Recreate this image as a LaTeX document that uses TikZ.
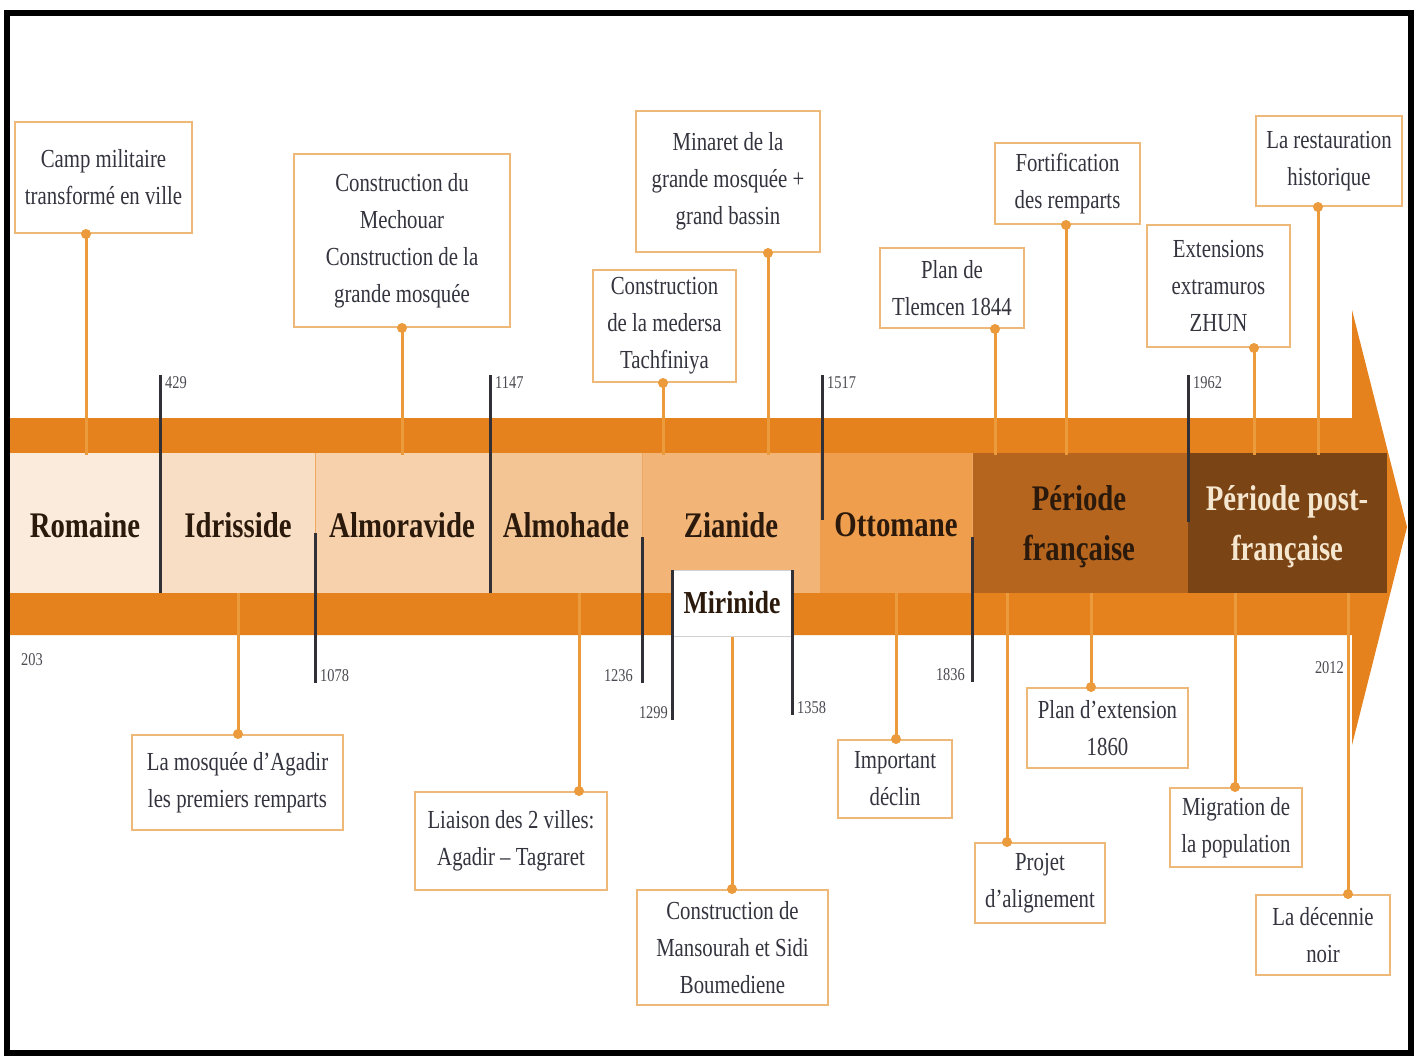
\documentclass[tikz,border=0pt]{standalone}
\usepackage{fontspec}
\setmainfont{Liberation Serif}[FakeStretch=0.8]
\usetikzlibrary{positioning}
\definecolor{band}{HTML}{E6821E}
\definecolor{linkorange}{HTML}{EB9A3C}
\definecolor{boxline}{HTML}{EDB878}
\definecolor{eventtext}{HTML}{34343F}
\definecolor{tickgray}{HTML}{303036}
\definecolor{datetext}{HTML}{4A4A52}
\definecolor{periodtext}{HTML}{2B1A0C}
\definecolor{posttext}{HTML}{F5E6D0}
\definecolor{cRomaine}{HTML}{FBEBDD}
\definecolor{cIdrisside}{HTML}{F8DEC4}
\definecolor{cAlmoravide}{HTML}{F6D1AB}
\definecolor{cAlmohade}{HTML}{F4C594}
\definecolor{cZianide}{HTML}{F2B477}
\definecolor{cOttomane}{HTML}{EE9E4C}
\definecolor{cFrancaise}{HTML}{B5651E}
\definecolor{cPost}{HTML}{7B4414}
\tikzstyle{event}=[draw=boxline, line width=2pt, fill=white, align=center, text=eventtext, inner sep=0pt, font=\fontsize{26}{37}\selectfont]
\tikzstyle{period}=[align=center, text=periodtext, font=\bfseries\fontsize{36}{50}\selectfont]
\tikzstyle{datum}=[text=datetext, inner sep=1pt, font=\fontsize{18}{20}\selectfont]
\tikzstyle{link}=[draw=linkorange, line width=3pt]
\tikzstyle{tick}=[draw=tickgray, line width=3pt]
\tikzstyle{dot}=[fill=linkorange]

\begin{document}
\begin{tikzpicture}[x=1pt, y=-1pt]
      \useasboundingbox (0,0) rectangle (1418,1058);
      \fill[white] (0,0) rectangle (1418,1058);

      % the arrow
      \fill[band] (10,418) -- (1352,418) -- (1352,310) -- (1407,527) -- (1352,745)
        -- (1352,635) -- (10,635) -- cycle;
      \foreach \c/\a/\b in {cRomaine/10/160, cIdrisside/160/315, cAlmoravide/315/490,
        cAlmohade/490/642, cZianide/642/820, cOttomane/820/972,
        cFrancaise/972/1188, cPost/1188/1387}{
        \fill[\c] (\a,453) rectangle (\b,593);
      }
      \foreach \x in {315, 642, 972}{
        \draw[band!70, line width=1pt] (\x,453) -- (\x,593);
      }

      \node[period] (romaine) at (85,525) {Romaine};
      \node[period] (idrisside) at (238,525) {Idrisside};
      \node[period] (almoravide) at (402,525) {Almoravide};
      \node[period] (almohade) at (566,525) {Almohade};
      \node[period] (zianide) at (731,525) {Zianide};
      \node[period] (ottomane) at (896,525) {Ottomane};
      \node[period] (francaise) at (1079,527) {Période\\française};
      \node[period, text=posttext] (postfr) at (1287,527) {Période post-\\française};
      \node[draw=gray!35, line width=1pt, fill=white, inner sep=0pt, minimum width=120, minimum height=66,
        text=periodtext, font=\bfseries\fontsize{32}{36}\selectfont] (mirinide) at (732,603) {Mirinide};

      % events above
      \node[event, minimum width=177, minimum height=111] (camp) at (103.5,177.5) {Camp militaire\\transformé en ville};
      \node[event, minimum width=216, minimum height=173] (mechouar) at (402,240.5) {Construction du\\Mechouar\\Construction de la\\grande mosquée};
      \node[event, minimum width=184, minimum height=141] (minaret) at (728,181.5) {Minaret de la\\grande mosquée +\\grand bassin};
      \node[event, minimum width=143, minimum height=112] (medersa) at (664.5,326) {Construction\\de la medersa\\Tachfiniya};
      \node[event, minimum width=144, minimum height=80] (plan) at (952,288) {Plan de\\Tlemcen 1844};
      \node[event, minimum width=145, minimum height=81] (fortif) at (1067.5,183.5) {Fortification\\des remparts};
      \node[event, minimum width=143, minimum height=122] (zhun) at (1218.5,286) {Extensions\\extramuros\\ZHUN};
      \node[event, minimum width=146, minimum height=90] (restaur) at (1329,161) {La restauration\\historique};

      % events below
      \node[event, minimum width=211, minimum height=95] (agadir) at (237.5,782.5) {La mosquée d'Agadir\\les premiers remparts};
      \node[event, minimum width=192, minimum height=98] (liaison) at (511,841) {Liaison des 2 villes:\\Agadir – Tagraret};
      \node[event, minimum width=191, minimum height=115] (mansourah) at (732.5,947.5) {Construction de\\Mansourah et Sidi\\Boumediene};
      \node[event, minimum width=114, minimum height=78] (declin) at (895,779) {Important\\déclin};
      \node[event, minimum width=161, minimum height=80] (extension) at (1107.5,728) {Plan d'extension\\1860};
      \node[event, minimum width=130, minimum height=80] (alignement) at (1040,883) {Projet\\d'alignement};
      \node[event, minimum width=132, minimum height=79] (migration) at (1236,827.5) {Migration de\\la population};
      \node[event, minimum width=134, minimum height=80] (decennie) at (1323,935) {La décennie\\noir};

      % connectors
      \foreach \ev/\x in {camp/86, mechouar/402, medersa/663, minaret/768, plan/995,
        fortif/1066, zhun/1254, restaur/1318}{
        \coordinate (\ev-end) at (\x,455);
        \draw[link] (\ev-end) -- (\ev-end |- \ev.south);
        \fill[dot] (\ev-end |- \ev.south) circle (5pt);
      }
      \foreach \ev/\x in {agadir/238, liaison/579, declin/896, extension/1091,
        alignement/1007, migration/1235, decennie/1348}{
        \coordinate (\ev-end) at (\x,593);
        \draw[link] (\ev-end) -- (\ev-end |- \ev.north);
        \fill[dot] (\ev-end |- \ev.north) circle (5pt);
      }
      \draw[link] (mirinide.south) -- (mirinide.south |- mansourah.north);
      \fill[dot] (mirinide.south |- mansourah.north) circle (5pt);

      % dates
      \foreach \n/\x/\ya/\yb in {t429/160/375/593, t1147/490/375/593, t1517/822/375/520,
        t1962/1188/375/522, t1078/315/533/683, t1236/642/537/683, t1299/672/570/720,
        t1358/792/570/715, t1836/972/537/682}{
        \coordinate (\n-a) at (\x,\ya);
        \coordinate (\n-b) at (\x,\yb);
        \draw[tick] (\n-a) -- (\n-b);
      }
      \node[datum, anchor=west] (d203) at (20,660) {203};
      \node[datum, anchor=north west] (d429) at ([xshift=4pt]t429-a) {429};
      \node[datum, anchor=north west] (d1147) at ([xshift=4pt]t1147-a) {1147};
      \node[datum, anchor=north west] (d1517) at ([xshift=4pt]t1517-a) {1517};
      \node[datum, anchor=north west] (d1962) at ([xshift=4pt]t1962-a) {1962};
      \node[datum, anchor=south west] (d1078) at ([xshift=4pt]t1078-b) {1078};
      \node[datum, anchor=south east] (d1236) at ([xshift=-8pt]t1236-b) {1236};
      \node[datum, anchor=south east] (d1299) at ([xshift=-3pt]t1299-b) {1299};
      \node[datum, anchor=south west] (d1358) at ([xshift=4pt]t1358-b) {1358};
      \node[datum, anchor=south east] (d1836) at ([xshift=-6pt]t1836-b) {1836};
      \node[datum, anchor=east] (d2012) at (1345,668) {2012};

      % frame
      \draw[line width=6pt] (7,13) rectangle (1411,1053);
    \end{tikzpicture}
\end{document}
